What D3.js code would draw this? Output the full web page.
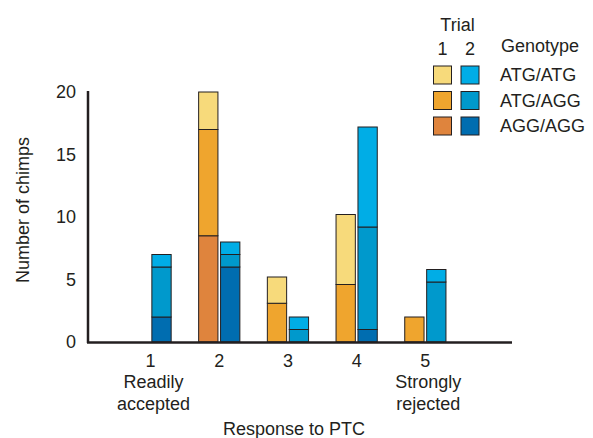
<!DOCTYPE html>
<html>
<head>
<meta charset="utf-8">
<script src="https://cdn.jsdelivr.net/npm/d3@7"></script>
<style>
  body { margin: 0; background: #fff; }
  svg text { font-family: "Liberation Sans", Arial, Helvetica, sans-serif; fill: #231f20; }
</style>
</head>
<body>
<div id="chart"></div>
<script>
const categories = ['1', '2', '3', '4', '5'];
const catNotes = [['Readily', 'accepted'], [], [], [], ['Strongly', 'rejected']];
const trials = ['1', '2'];
const genotypes = ['AGG/AGG', 'ATG/AGG', 'ATG/ATG']; // bottom to top
const legendGenotypes = ['ATG/ATG', 'ATG/AGG', 'AGG/AGG'];
const yTicks = [0, 5, 10, 15, 20];

// counts per response category, one array per genotype
const trial1 = {
  'AGG/AGG': [0, 8.5, 0, 0, 0],
  'ATG/AGG': [0, 8.5, 3.1, 4.6, 2],
  'ATG/ATG': [0, 3, 2.1, 5.6, 0],
};
const trial2 = {
  'AGG/AGG': [2, 6, 0, 1, 0],
  'ATG/AGG': [4, 1, 1, 8.2, 4.8],
  'ATG/ATG': [1, 1, 1, 8, 1],
};

const colors = {
  '1': { 'ATG/ATG': '#f7da7b', 'ATG/AGG': '#efa52e', 'AGG/AGG': '#df843d' },
  '2': { 'ATG/ATG': '#00ade6', 'ATG/AGG': '#0099cc', 'AGG/AGG': '#006db0' },
};

const W = 593, H = 438;
const svg = d3.select('#chart').append('svg').attr('width', W).attr('height', H);

const x = d3.scaleBand().domain(categories).range([116.2, 459.7])
  .paddingInner(0.4).paddingOuter(0.2);
const xt = d3.scaleBand().domain(trials).range([0, x.bandwidth()]).paddingInner(0.12);
const y = d3.scaleLinear().domain([0, 20]).range([342, 92]);

function rowsFor(t) {
  const src = t === '1' ? trial1 : trial2;
  return categories.map((c, i) => {
    const r = { cat: c };
    genotypes.forEach(g => { r[g] = src[g][i]; });
    return r;
  });
}

const stack = d3.stack().keys(genotypes);
const segG = svg.append('g');
trials.forEach(t => {
  const series = stack(rowsFor(t));
  series.forEach(s => {
    segG.append('g').selectAll('rect')
      .data(s.filter(d => d[1] - d[0] > 0))
      .join('rect')
      .attr('x', d => x(d.data.cat) + xt(t))
      .attr('y', d => y(d[1]))
      .attr('width', xt.bandwidth())
      .attr('height', d => y(d[0]) - y(d[1]))
      .attr('fill', colors[t][s.key])
      .attr('stroke', '#231f20')
      .attr('stroke-width', 1);
  });
});

// axes
const yAxis = svg.append('g').attr('transform', 'translate(88,0)')
  .call(d3.axisLeft(y).tickValues(yTicks).tickSize(0).tickPadding(12));
yAxis.select('.domain').remove();
yAxis.selectAll('text').attr('font-size', 18).attr('font-family', null);

svg.append('line').attr('x1', 88).attr('x2', 88).attr('y1', y(20) - 1).attr('y2', y(0) + 1)
  .attr('stroke', '#231f20').attr('stroke-width', 2.5);
svg.append('line').attr('x1', 87).attr('x2', 512).attr('y1', y(0) + 0.5).attr('y2', y(0) + 0.5)
  .attr('stroke', '#231f20').attr('stroke-width', 2.5);

const xAxis = svg.append('g').attr('transform', `translate(0,${y(0)})`)
  .call(d3.axisBottom(x).tickSize(0).tickPadding(10));
xAxis.select('.domain').remove();
xAxis.selectAll('text').attr('font-size', 18).attr('font-family', null)
  .attr('dy', null).attr('y', 25);

categories.forEach((c, i) => {
  catNotes[i].forEach((line, j) => {
    svg.append('text')
      .attr('x', x(c) + x.bandwidth() / 2 + 3)
      .attr('y', 388 + j * 21.5)
      .attr('text-anchor', 'middle')
      .attr('font-size', 18)
      .text(line);
  });
});

svg.append('text')
  .attr('x', 294).attr('y', 434.5)
  .attr('text-anchor', 'middle').attr('font-size', 18)
  .text('Response to PTC');

svg.append('text')
  .attr('transform', 'translate(29,210) rotate(-90)')
  .attr('text-anchor', 'middle').attr('font-size', 18)
  .text('Number of chimps');

// legend
const leg = svg.append('g');
const swX = { '1': 433.5, '2': 461 };
leg.append('text').attr('x', 457.5).attr('y', 31).attr('text-anchor', 'middle')
  .attr('font-size', 18).text('Trial');
trials.forEach(t => {
  leg.append('text').attr('x', swX[t] + 9).attr('y', 55).attr('text-anchor', 'middle')
    .attr('font-size', 18).text(t);
});
leg.append('text').attr('x', 501).attr('y', 52).attr('font-size', 18).text('Genotype');
legendGenotypes.forEach((g, i) => {
  const yy = 66 + i * 25.5;
  trials.forEach(t => {
    leg.append('rect').attr('x', swX[t]).attr('y', yy).attr('width', 18).attr('height', 18)
      .attr('fill', colors[t][g]).attr('stroke', '#231f20').attr('stroke-width', 1);
  });
  leg.append('text').attr('x', 500).attr('y', yy + 15).attr('font-size', 18).text(g);
});
</script>
</body>
</html>
